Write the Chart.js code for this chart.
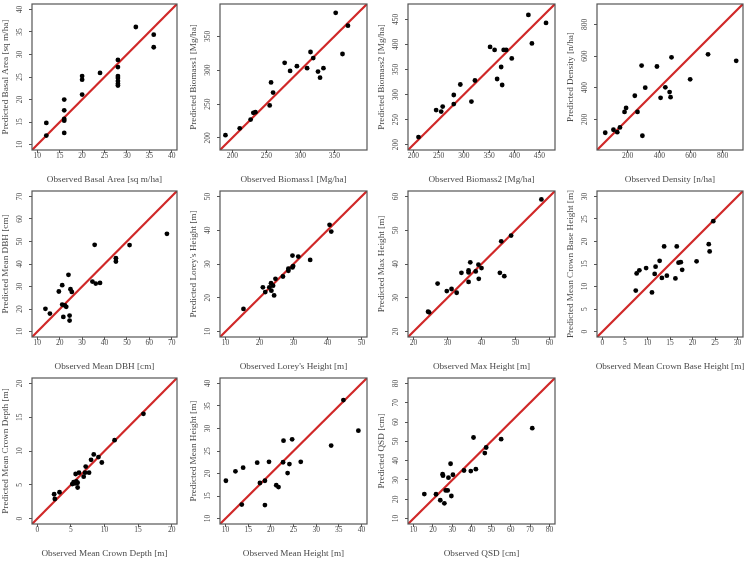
<!DOCTYPE html>
<html>
<head>
<meta charset="utf-8">
<script src="https://cdn.jsdelivr.net/npm/chart.js@4"></script>
<style>
  html, body { margin: 0; padding: 0; background: #fff; overflow: hidden; }
  #wrap { position: relative; width: 745px; height: 562px; }
  #wrap canvas { position: absolute; }
</style>
</head>
<body>
<div id="wrap"></div>
<script>
// Observed vs predicted values, one pair of arrays per variable
const basalObs  = [12, 12, 16, 16, 16, 16, 16, 20, 20, 20, 24, 28, 28, 28, 28, 28, 28, 28, 32, 36, 36];
const basalPred = [14.8, 12.0, 20.0, 17.6, 15.7, 15.3, 12.6, 25.2, 24.4, 21.1, 25.9, 28.8, 27.2, 25.2, 24.8, 24.1, 23.5, 23.1, 36.1, 34.4, 31.6];

const bio1Obs  = [190, 211, 227, 231, 234, 255, 257, 260, 277, 285, 295, 310, 315, 319, 326, 329, 334, 352, 362, 370];
const bio1Pred = [204, 214, 227, 237, 238, 248, 282, 267, 311, 299, 306, 303, 327, 318, 298, 289, 303, 385, 324, 366];

const bio2Obs  = [210, 245, 255, 258, 280, 280, 293, 315, 322, 352, 361, 366, 374, 376, 379, 384, 395, 428, 435, 463];
const bio2Pred = [215, 269, 266, 276, 299, 281, 320, 286, 328, 395, 389, 331, 355, 319, 389, 389, 372, 459, 402, 443];

const densObs  = [58, 110, 134, 151, 180, 190, 245, 262, 288, 293, 311, 385, 408, 438, 465, 471, 477, 595, 708, 886];
const densPred = [115, 134, 119, 149, 247, 272, 349, 247, 540, 96, 400, 534, 336, 402, 372, 340, 592, 453, 611, 570];

const dbhObs  = [13.6, 15.6, 19.6, 21.1, 21.1, 21.6, 22.3, 22.9, 23.9, 24.4, 24.4, 24.8, 25.4, 34.6, 35.6, 36.1, 38.0, 45.1, 45.1, 51.2, 67.9];
const dbhPred = [20.1, 18.0, 27.8, 30.6, 22.0, 16.5, 21.6, 21.0, 35.2, 17.1, 14.9, 28.8, 27.6, 32.2, 48.5, 31.3, 31.6, 42.6, 41.1, 48.4, 53.4];

const loreyObs  = [15.3, 21.0, 21.7, 22.9, 23.4, 23.5, 24.0, 24.3, 24.7, 26.9, 28.5, 28.5, 29.7, 29.9, 29.7, 31.4, 34.9, 40.6, 41.1];
const loreyPred = [16.7, 23.1, 21.7, 23.1, 24.3, 22.1, 23.6, 20.7, 25.6, 26.3, 28.0, 28.6, 29.0, 29.4, 32.5, 32.2, 31.2, 41.6, 39.6];

const maxHObs  = [24.3, 24.6, 27.1, 29.8, 31.2, 32.7, 34.1, 36.2, 36.2, 36.2, 36.7, 38.3, 39.1, 39.2, 40.0, 45.4, 45.8, 46.7, 48.7, 57.6];
const maxHPred = [25.9, 25.7, 34.2, 32.0, 32.6, 31.5, 37.4, 38.1, 37.5, 34.7, 40.5, 37.8, 39.8, 35.6, 38.8, 37.4, 46.7, 36.4, 48.4, 59.1];

const cbhObs  = [7.4, 7.6, 8.2, 9.7, 11.0, 11.6, 11.8, 12.7, 13.2, 13.7, 14.3, 16.2, 16.5, 16.9, 17.4, 17.7, 20.9, 23.6, 23.8, 24.6];
const cbhPred = [9.1, 12.9, 13.6, 14.1, 8.7, 12.8, 14.4, 15.7, 11.9, 18.9, 12.4, 11.8, 18.9, 15.3, 15.4, 13.7, 15.6, 19.4, 17.8, 24.5];

const crownObs  = [2.5, 2.6, 3.3, 5.2, 5.4, 5.6, 5.7, 5.8, 6.0, 6.0, 6.2, 6.9, 7.1, 7.2, 7.7, 8.0, 8.4, 9.1, 9.6, 11.5, 15.8];
const crownPred = [3.6, 2.9, 3.9, 5.1, 5.4, 5.2, 6.6, 5.5, 5.3, 4.6, 6.8, 6.2, 6.8, 7.7, 6.8, 8.7, 9.5, 9.1, 8.3, 11.6, 15.5];

const meanHObs  = [10.1, 12.2, 13.6, 13.9, 17.0, 17.6, 18.7, 18.7, 19.6, 21.2, 21.7, 22.7, 22.8, 23.7, 24.1, 24.7, 26.6, 33.3, 36.0, 39.3];
const meanHPred = [18.4, 20.5, 13.1, 21.3, 22.4, 17.9, 18.4, 13.0, 22.6, 17.4, 17.0, 22.5, 27.3, 20.1, 22.1, 27.6, 22.6, 26.2, 36.3, 29.5];

const qsdObs  = [15.6, 21.6, 23.8, 25.0, 25.2, 25.9, 26.6, 27.6, 28.0, 29.1, 29.5, 30.3, 36.0, 39.5, 40.9, 42.1, 46.7, 47.4, 55.1, 71.1];
const qsdPred = [22.7, 22.6, 19.5, 33.0, 32.2, 17.9, 24.6, 24.6, 31.2, 38.4, 21.7, 32.7, 34.9, 34.6, 52.0, 35.6, 43.9, 46.8, 51.1, 56.8];

// Tick values for each panel (same on both axes, except where noted)
const basalTicks = [10, 15, 20, 25, 30, 35, 40];
const bio1Ticks  = [200, 250, 300, 350];
const bio2Ticks  = [200, 250, 300, 350, 400, 450];
const densTicks  = [200, 400, 600, 800];
const dbhTicks   = [10, 20, 30, 40, 50, 60, 70];
const loreyTicks = [10, 20, 30, 40, 50];
const maxHTicks  = [20, 30, 40, 50, 60];
const cbhTicks   = [0, 5, 10, 15, 20, 25, 30];
const crownTicks = [0, 5, 10, 15, 20];
const meanHTicks = [10, 15, 20, 25, 30, 35, 40];
const qsdTicks   = [10, 20, 30, 40, 50, 60, 70, 80];

// Axis limits (shared by x and y, so the 1:1 line runs corner to corner)
const axisLow  = [8.8, 182, 189.2, 6, 7.6, 8.4, 18.4, -1.2, -0.8, 8.8, 7.2];
const axisHigh = [41.2, 398, 480.8, 929, 72.4, 51.6, 61.6, 31.2, 20.8, 41.2, 82.8];

const names = ['Basal Area [sq m/ha]', 'Biomass1 [Mg/ha]', 'Biomass2 [Mg/ha]', 'Density [n/ha]',
  'Mean DBH [cm]', "Lorey's Height [m]", 'Max Height [m]', 'Mean Crown Base Height [m]',
  'Mean Crown Depth [m]', 'Mean Height [m]', 'QSD [cm]'];

const observed  = [basalObs, bio1Obs, bio2Obs, densObs, dbhObs, loreyObs, maxHObs, cbhObs, crownObs, meanHObs, qsdObs];
const predicted = [basalPred, bio1Pred, bio2Pred, densPred, dbhPred, loreyPred, maxHPred, cbhPred, crownPred, meanHPred, qsdPred];
const tickSets  = [basalTicks, bio1Ticks, bio2Ticks, densTicks, dbhTicks, loreyTicks, maxHTicks, cbhTicks, crownTicks, meanHTicks, qsdTicks];

// Plot box of each panel on the page: left, top, right, bottom
const boxes = [
  [32, 4, 177, 150], [220, 4, 367, 150], [408, 4, 555, 150], [597, 4, 743, 150],
  [32, 191, 177, 337], [220, 191, 367, 337], [408, 191, 555, 337], [597, 191, 743, 337],
  [32, 378, 177, 524], [220, 378, 367, 524], [408, 378, 555, 524]
];

const SERIF = '"Liberation Serif", "DejaVu Serif", serif';
const INK = '#4a4a4a';
const Y_AXIS_W = 34, X_AXIS_H = 38, PAD_T = 4, PAD_R = 2;

// frame, rotated y tick labels and axis titles, R style
const framePlugin = {
  id: 'frame',
  afterDraw(chart, args, opts) {
    const ctx = chart.ctx, a = chart.chartArea, y = chart.scales.y;
    ctx.save();
    ctx.strokeStyle = '#555';
    ctx.lineWidth = 1.2;
    ctx.strokeRect(a.left, a.top, a.right - a.left, a.bottom - a.top);

    ctx.fillStyle = INK;
    ctx.textAlign = 'center';
    ctx.textBaseline = 'middle';
    ctx.font = '7.5px ' + SERIF;
    y.ticks.forEach(t => {
      const py = y.getPixelForValue(t.value);
      ctx.save();
      ctx.translate(a.left - 12, py);
      ctx.rotate(-Math.PI / 2);
      ctx.fillText(String(t.value), 0, 0);
      ctx.restore();
    });

    ctx.font = '9.2px ' + SERIF;
    ctx.save();
    ctx.translate(a.left - 26, (a.top + a.bottom) / 2);
    ctx.rotate(-Math.PI / 2);
    ctx.fillText(opts.yTitle, 0, 0);
    ctx.restore();
    ctx.fillText(opts.xTitle, (a.left + a.right) / 2, a.bottom + 30);
    ctx.restore();
  }
};

const wrap = document.getElementById('wrap');

boxes.forEach((b, i) => {
  const canvas = document.createElement('canvas');
  const left = b[0] - Y_AXIS_W, top = b[1] - PAD_T;
  const w = b[2] + PAD_R - left, h = b[3] + X_AXIS_H - top;
  canvas.width = w;
  canvas.height = h;
  canvas.style.left = left + 'px';
  canvas.style.top = top + 'px';
  wrap.appendChild(canvas);

  const lo = axisLow[i], hi = axisHigh[i], ticks = tickSets[i];
  const pts = observed[i].map((v, k) => ({ x: v, y: predicted[i][k] }));

  const axis = (isX) => ({
    type: 'linear',
    min: lo,
    max: hi,
    afterBuildTicks: s => { s.ticks = ticks.map(v => ({ value: v })); },
    afterFit: s => { if (isX) s.height = X_AXIS_H; else s.width = Y_AXIS_W; },
    grid: { drawOnChartArea: false, drawTicks: true, tickLength: 3, color: '#555', lineWidth: 1 },
    border: { display: false },
    ticks: {
      display: isX,
      color: INK,
      padding: -1,
      maxRotation: 0,
      font: { family: SERIF, size: 7.5 }
    }
  });

  new Chart(canvas, {
    type: 'scatter',
    data: {
      datasets: [
        { data: pts, pointRadius: 2.4, pointBackgroundColor: '#000', pointBorderWidth: 0, showLine: false },
        { type: 'line', data: [{ x: lo, y: lo }, { x: hi, y: hi }], borderColor: '#d02828', borderWidth: 2.2, pointRadius: 0, fill: false }
      ]
    },
    options: {
      responsive: false,
      animation: false,
      devicePixelRatio: 1,
      layout: { padding: { top: PAD_T, right: PAD_R, left: 0, bottom: 0 }, autoPadding: false },
      plugins: {
        legend: { display: false },
        tooltip: { enabled: false },
        frame: { xTitle: 'Observed ' + names[i], yTitle: 'Predicted ' + names[i] }
      },
      scales: { x: axis(true), y: axis(false) }
    },
    plugins: [framePlugin]
  });
});
</script>
</body>
</html>
